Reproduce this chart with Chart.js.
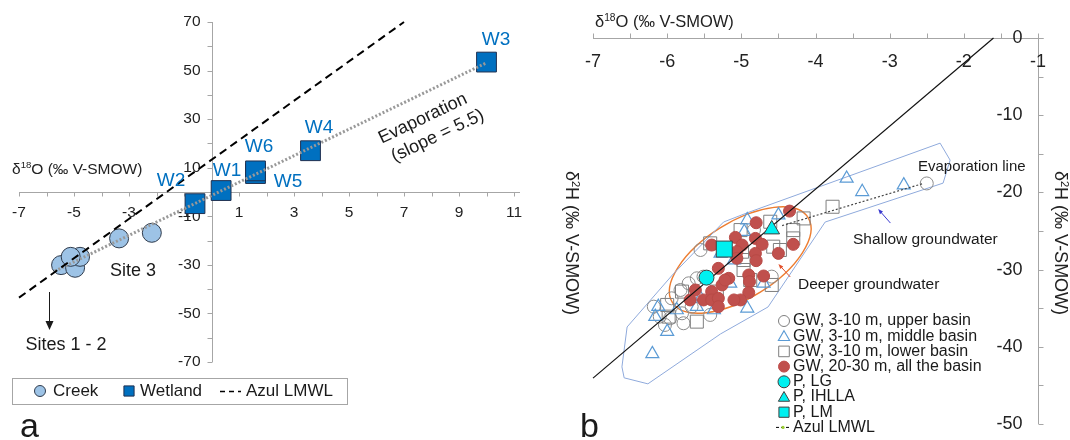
<!DOCTYPE html>
<html>
<head>
<meta charset="utf-8">
<script src="https://cdn.jsdelivr.net/npm/chart.js@4/dist/chart.umd.min.js"></script>
<style>
  body { margin: 0; background: #fff; width: 1070px; height: 440px; overflow: hidden; position: relative; }
  canvas { position: absolute; top: 0; }
</style>
</head>
<body>
<canvas id="chartA" width="560" height="440" style="left:0;width:560px;height:440px"></canvas>
<canvas id="chartB" width="510" height="440" style="left:560px;width:510px;height:440px"></canvas>
<script>
// ---- panel a: creek / wetland ----
const creekPoints = [[-5.47, -30.1], [-4.96, -31.2], [-4.78, -26.7], [-5.12, -26.7], [-3.36, -19.1], [-2.17, -16.8]];
const wetlandNames = ['W1', 'W2', 'W3', 'W4', 'W5', 'W6'];
const wetlandPoints = [[0.35, 0.6], [-0.6, -4.8], [10.0, 53.5], [3.6, 17.0], [1.6, 7.6], [1.6, 8.7]];
const lmwlA = [[-7, -43.5], [7, 70]];
const evapA = [[-5.7, -32.6], [10, 53.2]];
const xTicksA = [-7, -5, -3, -1, 1, 3, 5, 7, 9, 11];
const yTicksA = [70, 50, 30, 10, -10, -30, -50, -70];
const legendA = ['Creek', 'Wetland', 'Azul LMWL'];

// ---- panel b: groundwater / precipitation ----
const gwUpper = [[-2.50, -18.84], [-6.18, -34.80], [-6.10, -36.09], [-6.03, -37.17], [-5.94, -33.72], [-5.80, -35.66],
  [-5.78, -36.95], [-5.67, -34.80], [-5.60, -31.13], [-5.51, -30.91], [-5.71, -31.78], [-5.82, -32.64],
  [-5.42, -35.87], [-4.59, -30.91], [-4.83, -24.88], [-5.55, -27.46], [-5.96, -36.31]];
const gwMiddle = [[-3.58, -18.19], [-3.37, -19.92], [-2.81, -19.06], [-6.20, -40.92], [-6.00, -38.03], [-6.12, -34.80],
  [-6.16, -36.09], [-4.92, -35.01], [-4.70, -31.78], [-4.92, -23.58], [-4.50, -22.94], [-4.96, -25.09],
  [-5.55, -33.72], [-5.15, -31.78], [-5.37, -35.23], [-5.87, -35.23], [-5.60, -34.80], [-5.28, -27.90], [-5.10, -28.76]];
const gwLower = [[-3.77, -21.86], [-4.16, -23.37], [-4.30, -24.88], [-4.30, -25.96], [-4.48, -27.46], [-4.61, -23.80],
  [-5.01, -24.88], [-5.42, -26.60], [-4.97, -28.76], [-4.97, -30.05], [-4.88, -31.35], [-6.00, -34.58],
  [-5.98, -36.09], [-5.60, -36.74], [-5.80, -32.85], [-5.33, -32.85], [-4.59, -31.99], [-4.57, -27.03], [-4.99, -27.68]];
const gwDeep = [[-4.35, -22.42], [-4.80, -23.93], [-5.08, -25.83], [-4.81, -25.96], [-4.72, -26.73], [-4.99, -26.82],
  [-5.06, -27.68], [-5.06, -28.54], [-4.81, -27.90], [-4.80, -28.84], [-4.50, -27.90], [-4.30, -26.73],
  [-5.40, -26.82], [-5.31, -29.84], [-5.17, -31.13], [-5.26, -31.99], [-4.90, -30.70], [-4.89, -31.56],
  [-4.70, -30.83], [-4.90, -32.98], [-5.01, -33.93], [-5.10, -33.93], [-5.40, -32.85], [-5.51, -33.93],
  [-5.40, -33.93], [-5.31, -33.72], [-5.31, -34.80], [-5.62, -32.64], [-5.69, -33.93], [-5.22, -31.35]];
const precipLG = [[-5.47, -31.04]];
const precipIHLLA = [[-4.59, -24.79]];
const precipLM = [[-5.23, -27.34]];
const lmwlB = [[-7, -44.06], [-1.6, 0]];
const evapB = [[-4.45, -24.3], [-2.55, -18.85]];
const envelopeB = [[-2.32, -13.62], [-2.185, -15.82], [-2.28, -18.80], [-3.87, -23.84], [-4.64, -34.84], [-5.28, -38.33],
  [-6.26, -44.80], [-6.58, -44.02], [-6.61, -42.60], [-6.54, -37.43], [-5.93, -30.70], [-5.24, -23.84],
  [-4.93, -22.68], [-2.32, -13.62]];
const deepEllipse = { center: [-5.015, -28.76], major: [-4.10, -23.27], minor: [-4.744, -32.92] };
const xTicksB = [-7, -6, -5, -4, -3, -2, -1];
const yTicksB = [0, -10, -20, -30, -40, -50];
const legendB = ['GW, 3-10 m, upper basin', 'GW, 3-10 m, middle basin', 'GW, 3-10 m, lower basin',
  'GW, 20-30 m, all the basin', 'P, LG', 'P, IHLLA', 'P, LM', 'Azul LMWL'];

const FONT = '"Liberation Sans", Arial, Helvetica, sans-serif';
const toXY = p => ({ x: p[0], y: p[1] });

function text(ctx, str, x, y, size, align, color) {
  ctx.font = size + 'px ' + FONT;
  ctx.fillStyle = color || '#1a1a1a';
  ctx.textAlign = align || 'left';
  ctx.textBaseline = 'middle';
  ctx.fillText(str, x, y);
}

// text with superscript parts, y is the vertical centre
function rich(ctx, x, y, parts, size, align, color) {
  let w = 0;
  parts.forEach(p => { ctx.font = (p[1] ? size * 0.62 : size) + 'px ' + FONT; w += ctx.measureText(p[0]).width; });
  let cx = align === 'center' ? x - w / 2 : (align === 'right' ? x - w : x);
  const base = y + size * 0.36;
  ctx.fillStyle = color || '#1a1a1a';
  ctx.textAlign = 'left';
  ctx.textBaseline = 'alphabetic';
  parts.forEach(p => {
    ctx.font = (p[1] ? size * 0.62 : size) + 'px ' + FONT;
    ctx.fillText(p[0], cx, p[1] ? base - size * 0.36 : base);
    cx += ctx.measureText(p[0]).width;
  });
}

function arrow(ctx, x1, y1, x2, y2, color, width, headLen, headW) {
  const a = Math.atan2(y2 - y1, x2 - x1);
  ctx.strokeStyle = color; ctx.fillStyle = color; ctx.lineWidth = width;
  ctx.beginPath();
  ctx.moveTo(x1, y1);
  ctx.lineTo(x2 - Math.cos(a) * headLen * 0.8, y2 - Math.sin(a) * headLen * 0.8);
  ctx.stroke();
  ctx.beginPath();
  ctx.moveTo(x2, y2);
  ctx.lineTo(x2 - Math.cos(a) * headLen - Math.sin(a) * headW / 2, y2 - Math.sin(a) * headLen + Math.cos(a) * headW / 2);
  ctx.lineTo(x2 - Math.cos(a) * headLen + Math.sin(a) * headW / 2, y2 - Math.sin(a) * headLen - Math.cos(a) * headW / 2);
  ctx.closePath();
  ctx.fill();
}

function marker(ctx, style, radius, x, y, fill, stroke, bw) {
  ctx.save();
  ctx.fillStyle = fill; ctx.strokeStyle = stroke; ctx.lineWidth = bw;
  if (Chart.helpers && Chart.helpers.drawPoint) {
    Chart.helpers.drawPoint(ctx, { pointStyle: style, radius: radius, borderWidth: bw, rotation: 0 }, x, y);
  } else {
    ctx.beginPath();
    ctx.arc(x, y, radius, 0, Math.PI * 2);
    ctx.fill(); ctx.stroke();
  }
  ctx.restore();
}

const SUP18 = [['δ', 0], ['18', 1], ['O (‰ V-SMOW)', 0]];
const SUP2 = [['δ', 0], ['2', 1], ['H (‰ V-SMOW)', 0]];

// ---------- panel a plugins ----------
const axesA = {
  id: 'axesA',
  beforeDatasetsDraw(chart) {
    const { ctx, scales: { x, y } } = chart;
    const x0 = Math.round(x.getPixelForValue(0)) + 0.5;
    const y0 = Math.round(y.getPixelForValue(0)) + 0.5;
    ctx.save();
    ctx.strokeStyle = '#a6a6a6';
    ctx.lineWidth = 1;
    ctx.beginPath();
    ctx.moveTo(x.left, y0); ctx.lineTo(x.right + 6, y0);
    ctx.moveTo(x0, y.top); ctx.lineTo(x0, y.bottom);
    for (let v = x.min; v <= x.max; v++) {
      const px = Math.round(x.getPixelForValue(v)) + 0.5;
      ctx.moveTo(px, y0); ctx.lineTo(px, y0 + 4);
    }
    for (let v = y.min; v <= y.max; v += 10) {
      const py = Math.round(y.getPixelForValue(v)) + 0.5;
      ctx.moveTo(x0 - 5, py); ctx.lineTo(x0, py);
    }
    ctx.stroke();
    xTicksA.forEach(v => text(ctx, String(v), x.getPixelForValue(v), y0 + 20, 15.5, 'center', '#222'));
    yTicksA.forEach(v => text(ctx, String(v), x0 - 12, y.getPixelForValue(v), 15.5, 'right', '#222'));
    rich(ctx, 12, 168, SUP18, 15.5, 'left', '#222');
    ctx.restore();
  },
  afterDatasetsDraw(chart) {
    const { ctx } = chart;
    ctx.save();
    // wetland labels
    const wPos = { W1: [227, 171], W2: [171, 181], W3: [496, 40], W4: [319, 128], W5: [288, 182], W6: [259, 147] };
    wetlandNames.forEach(n => text(ctx, n, wPos[n][0], wPos[n][1], 19, 'center', '#0070c0'));
    // evaporation text
    ctx.translate(433, 126);
    ctx.rotate(-25.5 * Math.PI / 180);
    text(ctx, 'Evaporation', -6, -11, 18, 'center', '#1a1a1a');
    text(ctx, '(slope = 5.5)', 0, 11, 18, 'center', '#1a1a1a');
    ctx.setTransform(1, 0, 0, 1, 0, 0);
    text(ctx, 'Site 3', 133, 271, 18, 'center');
    text(ctx, 'Sites 1 - 2', 66, 345, 18, 'center');
    arrow(ctx, 49.5, 292, 49.5, 330, '#1a1a1a', 1, 9, 8);
    // legend
    ctx.strokeStyle = '#a6a6a6'; ctx.lineWidth = 1;
    ctx.strokeRect(12.5, 378.5, 335, 26);
    marker(ctx, 'circle', 5.5, 40, 391, '#9dc3e6', '#2f3b4c', 1);
    text(ctx, legendA[0], 53, 391.5, 17);
    marker(ctx, 'rect', 7.2, 129, 391, '#0070c0', '#1f3050', 1);
    text(ctx, legendA[1], 140, 391.5, 17);
    ctx.strokeStyle = '#000'; ctx.lineWidth = 1.5; ctx.setLineDash([5, 4]);
    ctx.beginPath(); ctx.moveTo(220, 391.5); ctx.lineTo(241, 391.5); ctx.stroke();
    ctx.setLineDash([]);
    text(ctx, legendA[2], 246, 391.5, 17);
    ctx.font = '34px ' + FONT; ctx.fillStyle = '#1a1a1a'; ctx.textAlign = 'left'; ctx.textBaseline = 'alphabetic';
    ctx.fillText('a', 20, 437);
    ctx.restore();
  }
};

new Chart(document.getElementById('chartA'), {
  type: 'scatter',
  data: {
    datasets: [
      { label: 'Azul LMWL', data: lmwlA.map(toXY), showLine: true, borderColor: '#000', borderWidth: 2,
        borderDash: [8, 5], pointRadius: 0, order: 0, clip: false },
      { label: 'Evaporation', data: evapA.map(toXY), showLine: true, borderColor: '#999', borderWidth: 3,
        borderDash: [2, 2], pointRadius: 0, order: 0, clip: false },
      { label: 'Creek', data: creekPoints.map(toXY), pointStyle: 'circle', pointRadius: 9.5,
        backgroundColor: '#9dc3e6', borderColor: '#2f3b4c', borderWidth: 1, order: 1, clip: false },
      { label: 'Wetland', data: wetlandPoints.map(toXY), pointStyle: 'rect', pointRadius: 14,
        backgroundColor: '#0070c0', borderColor: '#1f3050', borderWidth: 1, order: 1, clip: false }
    ]
  },
  options: {
    responsive: false,
    animation: false,
    events: [],
    layout: { padding: { left: 19, right: 46, top: 22, bottom: 78 } },
    scales: {
      x: { type: 'linear', min: -7, max: 11, display: false },
      y: { type: 'linear', min: -70, max: 70, display: false }
    },
    plugins: { legend: { display: false }, tooltip: { enabled: false } }
  },
  plugins: [axesA]
});

// ---------- panel b plugins ----------
const axesB = {
  id: 'axesB',
  beforeDatasetsDraw(chart) {
    const { ctx, scales: { x, y } } = chart;
    const xr = Math.round(x.getPixelForValue(-1)) + 0.5;
    const yt = Math.round(y.getPixelForValue(0)) + 0.5;
    ctx.save();
    ctx.strokeStyle = '#a6a6a6';
    ctx.lineWidth = 1;
    ctx.beginPath();
    ctx.moveTo(x.left, yt); ctx.lineTo(xr + 5, yt);
    ctx.moveTo(xr, yt); ctx.lineTo(xr, y.bottom);
    for (let v = x.min; v <= x.max; v += 0.5) {
      const px = Math.round(x.getPixelForValue(v)) + 0.5;
      ctx.moveTo(px, yt); ctx.lineTo(px, yt - 5);
    }
    for (let v = y.min; v <= y.max; v += 5) {
      const py = Math.round(y.getPixelForValue(v)) + 0.5;
      ctx.moveTo(xr, py); ctx.lineTo(xr + 5, py);
    }
    ctx.stroke();
    xTicksB.forEach(v => text(ctx, String(v), x.getPixelForValue(v), yt + 24, 18, 'center', '#222'));
    yTicksB.forEach(v => text(ctx, String(v), xr - 16, y.getPixelForValue(v), 18, 'right', '#222'));
    rich(ctx, 35, 21, SUP18, 16.5, 'left', '#222');
    // vertical titles
    [12, 501].forEach(cx => {
      ctx.save();
      ctx.translate(cx, 243);
      ctx.rotate(Math.PI / 2);
      rich(ctx, 0, 0, SUP2, 18, 'center', '#222');
      ctx.restore();
    });
    // envelope of deeper groundwater
    const c = [x.getPixelForValue(deepEllipse.center[0]), y.getPixelForValue(deepEllipse.center[1])];
    const m = [x.getPixelForValue(deepEllipse.major[0]), y.getPixelForValue(deepEllipse.major[1])];
    const n = [x.getPixelForValue(deepEllipse.minor[0]), y.getPixelForValue(deepEllipse.minor[1])];
    ctx.strokeStyle = '#ed7d31';
    ctx.lineWidth = 1.4;
    ctx.beginPath();
    ctx.ellipse(c[0], c[1], Math.hypot(m[0] - c[0], m[1] - c[1]), Math.hypot(n[0] - c[0], n[1] - c[1]),
      Math.atan2(m[1] - c[1], m[0] - c[0]), 0, Math.PI * 2);
    ctx.stroke();
    ctx.restore();
  },
  afterDatasetsDraw(chart) {
    const { ctx, scales: { x, y } } = chart;
    ctx.save();
    const P = p => [x.getPixelForValue(p[0]), y.getPixelForValue(p[1])];
    let a = P([-2.99, -23.97]), b = P([-3.155, -22.16]);
    arrow(ctx, a[0], a[1], b[0], b[1], '#3a3acf', 1, 5, 4);
    a = P([-4.34, -30.96]); b = P([-4.50, -29.28]);
    arrow(ctx, a[0], a[1], b[0], b[1], '#e2502a', 1, 5, 4);
    text(ctx, 'Evaporation line', 358, 167, 15, 'left');
    text(ctx, 'Shallow groundwater', 293, 240, 15.5, 'left');
    text(ctx, 'Deeper groundwater', 238, 285, 15.5, 'left');
    // legend
    const lx = 224, tx = 233, ys = [321, 336.2, 351.4, 366.6, 381.8, 397, 412.2, 427.4];
    marker(ctx, 'circle', 5.5, lx, ys[0], 'rgba(0,0,0,0)', '#7f7f7f', 1);
    marker(ctx, 'triangle', 6.5, lx, ys[1] + 1, 'rgba(0,0,0,0)', '#5b9bd5', 1.1);
    marker(ctx, 'rect', 7.5, lx, ys[2], 'rgba(0,0,0,0)', '#7f7f7f', 1);
    marker(ctx, 'circle', 5.5, lx, ys[3], '#c0504d', '#c0504d', 1);
    marker(ctx, 'circle', 6, lx, ys[4], '#00f0f0', '#404040', 1);
    marker(ctx, 'triangle', 6.5, lx, ys[5] + 1, '#00f0f0', '#404040', 1);
    marker(ctx, 'rect', 7.2, lx, ys[6], '#00f0f0', '#404040', 1);
    ctx.strokeStyle = '#000'; ctx.lineWidth = 1; ctx.setLineDash([3, 2]);
    ctx.beginPath(); ctx.moveTo(216, ys[7]); ctx.lineTo(230, ys[7]); ctx.stroke();
    ctx.setLineDash([]);
    ctx.fillStyle = '#9acd32';
    ctx.beginPath(); ctx.arc(223, ys[7], 1.6, 0, Math.PI * 2); ctx.fill();
    legendB.forEach((s, i) => text(ctx, s, tx, ys[i], 16, 'left'));
    ctx.font = '34px ' + FONT; ctx.fillStyle = '#1a1a1a'; ctx.textAlign = 'left'; ctx.textBaseline = 'alphabetic';
    ctx.fillText('b', 20, 437);
    ctx.restore();
  }
};

const open = 'rgba(0,0,0,0)';
new Chart(document.getElementById('chartB'), {
  type: 'scatter',
  data: {
    datasets: [
      { label: 'P, LG', data: precipLG.map(toXY), pointStyle: 'circle', pointRadius: 7.5,
        backgroundColor: '#00f0f0', borderColor: '#404040', borderWidth: 1, order: 0, clip: false },
      { label: 'P, IHLLA', data: precipIHLLA.map(toXY), pointStyle: 'triangle', pointRadius: 9,
        backgroundColor: '#00f0f0', borderColor: '#404040', borderWidth: 1, order: 0, clip: false },
      { label: 'P, LM', data: precipLM.map(toXY), pointStyle: 'rect', pointRadius: 11.3,
        backgroundColor: '#00f0f0', borderColor: '#404040', borderWidth: 1, order: 0, clip: false },
      { label: 'Azul LMWL', data: lmwlB.map(toXY), showLine: true, borderColor: '#111', borderWidth: 1.2,
        pointRadius: 0, order: 1, clip: false },
      { label: 'Evaporation line', data: evapB.map(toXY), showLine: true, borderColor: '#444', borderWidth: 1.2,
        borderDash: [2, 2], pointRadius: 0, order: 1, clip: false },
      { label: 'GW, 20-30 m, all the basin', data: gwDeep.map(toXY), pointStyle: 'circle', pointRadius: 6,
        backgroundColor: '#c0504d', borderColor: '#b84a46', borderWidth: 1, order: 2, clip: false },
      { label: 'GW, 3-10 m, middle basin', data: gwMiddle.map(toXY), pointStyle: 'triangle', pointRadius: 7.5,
        backgroundColor: open, borderColor: '#5b9bd5', borderWidth: 1.2, order: 3, clip: false },
      { label: 'GW, 3-10 m, lower basin', data: gwLower.map(toXY), pointStyle: 'rect', pointRadius: 9.2,
        backgroundColor: open, borderColor: '#7f7f7f', borderWidth: 1, order: 3, clip: false },
      { label: 'GW, 3-10 m, upper basin', data: gwUpper.map(toXY), pointStyle: 'circle', pointRadius: 6.5,
        backgroundColor: open, borderColor: '#8c8c8c', borderWidth: 1, order: 3, clip: false },
      { label: 'envelope', data: envelopeB.map(toXY), showLine: true, borderColor: '#8faadc', borderWidth: 1,
        pointRadius: 0, order: 4, clip: false }
    ]
  },
  options: {
    responsive: false,
    animation: false,
    events: [],
    layout: { padding: { left: 33, right: 32, top: 38, bottom: 16 } },
    scales: {
      x: { type: 'linear', min: -7, max: -1, display: false },
      y: { type: 'linear', min: -50, max: 0, display: false }
    },
    plugins: { legend: { display: false }, tooltip: { enabled: false } }
  },
  plugins: [axesB]
});
</script>
</body>
</html>
